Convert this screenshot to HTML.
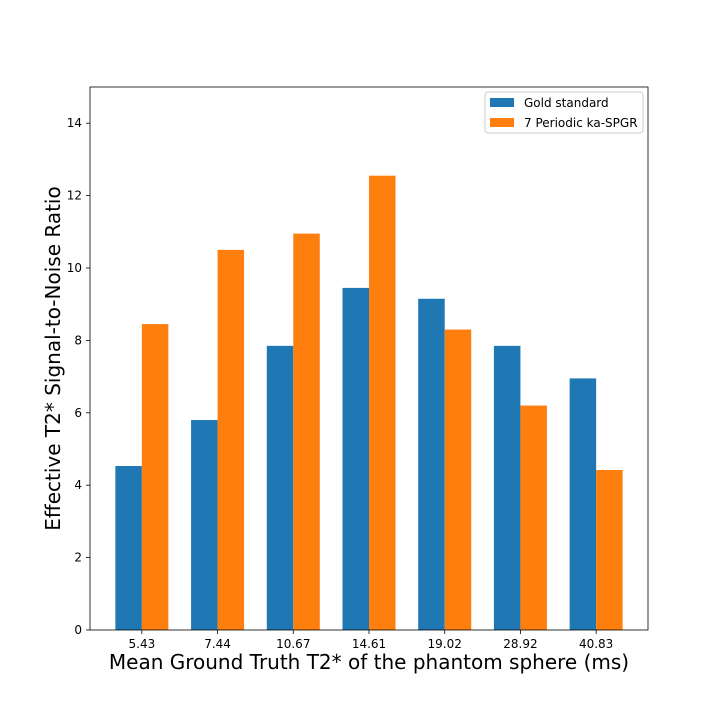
<!DOCTYPE html>
<html><head><meta charset="utf-8"><style>
body{margin:0;background:#fff}
svg text{font-family:"DejaVu Sans","Liberation Sans",sans-serif}
</style></head><body>
<svg id="chart" width="720" height="720" viewBox="0 0 720 720" xmlns="http://www.w3.org/2000/svg">
<rect width="720" height="720" fill="#fff"/>
<g id="bars"></g>
<g id="axes"></g>
</svg>
<script>
const categories=["5.43","7.44","10.67","14.61","19.02","28.92","40.83"];
const goldValues=[4.53,5.8,7.85,9.45,9.15,7.85,6.95];
const periodicValues=[8.45,10.5,10.95,12.55,8.3,6.2,4.42];
const yTicks=[0,2,4,6,8,10,12,14];
const L=90,R=648,T=87,B=630,ymax=15,xmin=-0.685,xmax=6.685,bw=0.35;
const NS="http://www.w3.org/2000/svg";
const xs=v=>L+(v-xmin)/(xmax-xmin)*(R-L);
const ys=v=>B-v/ymax*(B-T);
function mk(tag,attrs,parent,text){const e=document.createElementNS(NS,tag);for(const k in attrs)e.setAttribute(k,attrs[k]);if(text!==undefined)e.textContent=text;parent.appendChild(e);return e;}
const bars=document.getElementById('bars'),axes=document.getElementById('axes');
categories.forEach((c,i)=>{
  const g=mk('rect',{x:xs(i-bw),y:ys(goldValues[i]),width:xs(i)-xs(i-bw),height:B-ys(goldValues[i]),fill:'#1f77b4'},bars);
  
  
  const o=mk('rect',{x:xs(i),y:ys(periodicValues[i]),width:xs(i+bw)-xs(i),height:B-ys(periodicValues[i]),fill:'#ff7f0e'},bars);
  
  
  mk('line',{x1:xs(i),x2:xs(i),y1:B,y2:B+4,stroke:'#000','stroke-width':0.8},axes);
  const t=mk('text',{x:xs(i),y:B+18,'font-size':12,'text-anchor':'middle'},axes,c);
  
  
});
yTicks.forEach(v=>{
  mk('line',{x1:L-4,x2:L,y1:ys(v),y2:ys(v),stroke:'#000','stroke-width':0.8},axes);
  const t=mk('text',{x:L-8,y:ys(v)+4,'font-size':12,'text-anchor':'end'},axes,String(v));
  
  
});
const fr=mk('rect',{x:L,y:T,width:R-L,height:B-T,fill:'none',stroke:'#000','stroke-width':0.8},axes);


const xt=mk('text',{x:(L+R)/2,y:669,'font-size':20,'text-anchor':'middle'},axes,'Mean Ground Truth T2* of the phantom sphere (ms)');


const yt=mk('text',{x:0,y:0,'font-size':20,'text-anchor':'middle',transform:'translate(60,'+((T+B)/2)+') rotate(-90)'},axes,'Effective T2* Signal-to-Noise Ratio');


const lg=mk('g',{},axes);


mk('rect',{x:485,y:92,width:158,height:41,rx:3,fill:'#fff',stroke:'#ccc','stroke-width':1},lg);
const items=[['Gold standard','#1f77b4'],['7 Periodic ka-SPGR','#ff7f0e']];
items.forEach((it,k)=>{
  const e=mk('g',{},lg);
  
  
  mk('rect',{x:490,y:98+k*20,width:24,height:9,fill:it[1]},e);
  mk('text',{x:524,y:107+k*20,'font-size':12},e,it[0]);
});
</script>
</body></html>
